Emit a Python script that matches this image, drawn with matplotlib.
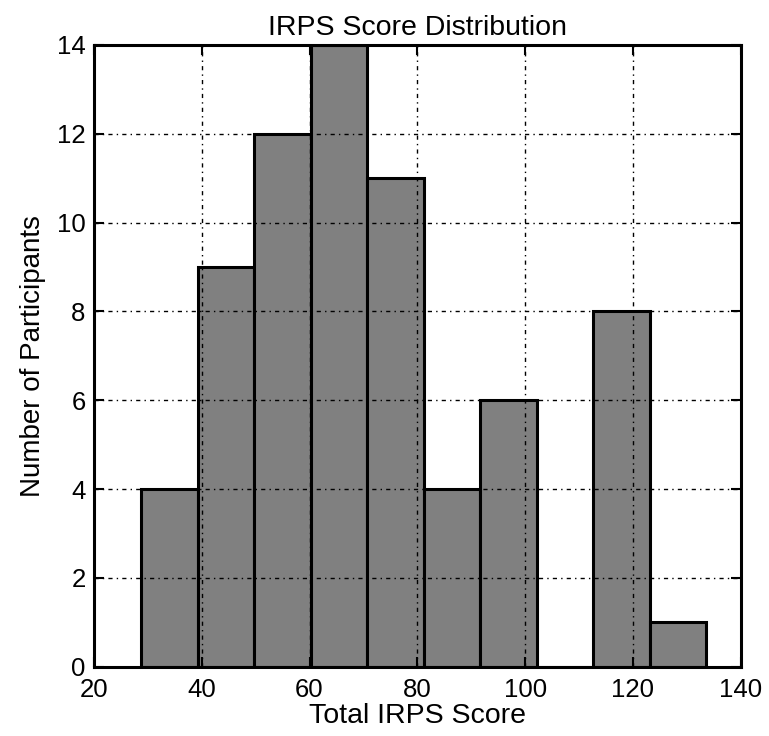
import numpy as np
import matplotlib.pyplot as plt

plt.rcParams['font.family'] = ['Liberation Sans', 'DejaVu Sans']

# histogram of IRPS scores, 10 bins between min and max score
score_min = 28.8
score_max = 133.6
counts = [4, 9, 12, 14, 11, 4, 6, 0, 8, 1]

edges = np.linspace(score_min, score_max, len(counts) + 1)
widths = np.diff(edges)

fig = plt.figure(figsize=(7.69, 7.36), dpi=100)
ax = fig.add_axes([0.1222, 0.0942, 0.8410, 0.8447])

ax.bar(edges[:-1], counts, width=widths, align='edge', color='#808080',
       edgecolor='black', linewidth=2.2, zorder=2)

ax.set_xlim(20, 140)
ax.set_ylim(0, 14)
ax.set_xticks(np.arange(20, 141, 20))
ax.set_yticks(np.arange(0, 15, 2))

ax.grid(True, color='black', linewidth=1, linestyle=(0, (3, 3, 1, 3)), zorder=3)
ax.set_axisbelow(False)

for s in ax.spines.values():
    s.set_linewidth(2.2)
    s.set_zorder(4)
ax.tick_params(direction='in', length=7, width=1.5, top=True, right=True,
               labelsize=18.5)
ax.tick_params(axis='y', pad=6)
ax.tick_params(axis='x', pad=8)

ax.set_title('IRPS Score Distribution', fontsize=20.5, pad=7)
ax.set_xlabel('Total IRPS Score', fontsize=20.5, labelpad=1)
ax.set_ylabel('Number of Participants', fontsize=20, labelpad=8)

fig.savefig('out.png', dpi=100)
